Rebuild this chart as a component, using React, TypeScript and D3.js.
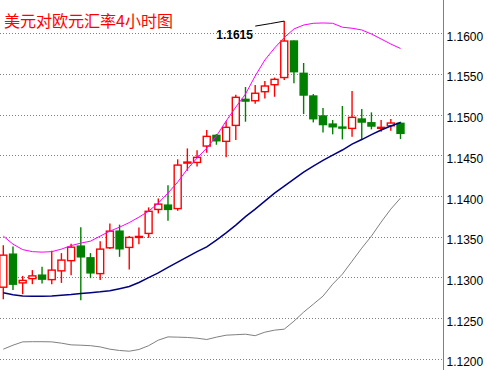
import * as d3 from "d3";
import { useEffect, useRef } from "react";

// 4-hour bars, left to right
const opens = [
  1.12879, 1.13285, 1.12932, 1.12984, 1.13027, 1.12972, 1.1308, 1.13205, 1.13384, 1.1324,
  1.13046, 1.13363, 1.13568, 1.13368, 1.13491, 1.1354, 1.13835, 1.13888, 1.13845, 1.14408,
  1.14413, 1.14614, 1.14745, 1.14672, 1.14868, 1.15188, 1.15171, 1.15282, 1.15368, 1.15456,
  1.15905, 1.15508, 1.15229, 1.14983, 1.14884, 1.14847, 1.14831, 1.14946, 1.149, 1.14835,
  1.14863, 1.14893,
];
const highs = [
  1.13396, 1.13378, 1.13018, 1.13089, 1.13129, 1.13328, 1.13298, 1.13412, 1.13617, 1.13298,
  1.13445, 1.13663, 1.13648, 1.13507, 1.13614, 1.1386, 1.1397, 1.14132, 1.14451, 1.14585,
  1.14561, 1.14811, 1.14761, 1.14918, 1.15245, 1.1534, 1.15364, 1.15413, 1.15456, 1.1615,
  1.1591, 1.15635, 1.15253, 1.15081, 1.14934, 1.15106, 1.1529, 1.15069, 1.15028, 1.14934,
  1.14946, 1.14913,
];
const lows = [
  1.12732, 1.12843, 1.12793, 1.12916, 1.12923, 1.12916, 1.12932, 1.13027, 1.1272, 1.1299,
  1.12966, 1.13347, 1.13252, 1.13095, 1.13408, 1.13485, 1.13786, 1.13695, 1.13818, 1.1431,
  1.14364, 1.14531, 1.1463, 1.14475, 1.14688, 1.14913, 1.15134, 1.15198, 1.1522, 1.15426,
  1.15385, 1.15007, 1.14905, 1.1478, 1.14758, 1.14696, 1.14728, 1.14696, 1.14819, 1.1479,
  1.14802, 1.147,
];
const closes = [
  1.13273, 1.12916, 1.12962, 1.13018, 1.12978, 1.13089, 1.13212, 1.13371, 1.13252, 1.13055,
  1.13347, 1.13568, 1.13351, 1.13491, 1.13503, 1.13812, 1.139, 1.13835, 1.1438, 1.14417,
  1.14475, 1.14733, 1.14679, 1.14844, 1.15213, 1.15167, 1.15263, 1.15352, 1.15434, 1.15905,
  1.15528, 1.15241, 1.1495, 1.14878, 1.14851, 1.14839, 1.14967, 1.14909, 1.1486, 1.14844,
  1.14897, 1.1477,
];

// bollinger bands
const upperBand = [
  1.13507, 1.13408, 1.13341, 1.13316, 1.1331, 1.13316, 1.13347, 1.1339, 1.13421, 1.13445,
  1.13507, 1.13568, 1.13617, 1.13673, 1.1374, 1.13814, 1.13913, 1.14036, 1.14171, 1.14331,
  1.14466, 1.14589, 1.14737, 1.14921, 1.15093, 1.15253, 1.15475, 1.15672, 1.15819, 1.15948,
  1.16053, 1.16102, 1.16123, 1.16127, 1.16123, 1.16075, 1.16062, 1.16041, 1.15991, 1.1593,
  1.15868, 1.15813,
];
const middleBand = [
  1.12812, 1.12787, 1.12772, 1.12769, 1.12769, 1.12772, 1.12781, 1.1279, 1.12802, 1.12812,
  1.12822, 1.12836, 1.12861, 1.12888, 1.12937, 1.12996, 1.13055, 1.13122, 1.13187, 1.13252,
  1.13316, 1.13375, 1.13458, 1.13547, 1.13642, 1.13747, 1.13839, 1.13937, 1.14036, 1.14122,
  1.14208, 1.14294, 1.14368, 1.14438, 1.14503, 1.14565, 1.14638, 1.14694, 1.14755, 1.14811,
  1.1486, 1.14903,
];
const lowerBand = [
  1.12117, 1.12166, 1.12207, 1.12209, 1.12209, 1.12207, 1.12191, 1.1217, 1.12166, 1.1216,
  1.12145, 1.12117, 1.12101, 1.12092, 1.12113, 1.1216, 1.12228, 1.12268, 1.12265, 1.12261,
  1.12252, 1.12236, 1.12265, 1.12289, 1.12295, 1.12301, 1.12283, 1.12326, 1.12351, 1.12363,
  1.12461, 1.12572, 1.1267, 1.12769, 1.12916, 1.13039, 1.13199, 1.13359, 1.13507, 1.13679,
  1.13839, 1.13974,
];

const yTicks = [1.12, 1.125, 1.13, 1.135, 1.14, 1.145, 1.15, 1.155, 1.16, 1.165];
const title = "美元对欧元汇率4小时图";
const peakIndex = 29;

const W = 487,
  H = 370,
  axisX = 443.5;

export default function App() {
  const svgRef = useRef<SVGSVGElement>(null);

  useEffect(() => {
    const svg = d3.select(svgRef.current);
    svg.selectAll("*").remove();

    const x = d3.scaleLinear().domain([0, opens.length - 1]).range([3.3, 400.5]);
    const y = d3.scaleLinear().domain([1.12, 1.16]).range([358.7, 33.3]);

    svg.append("rect").attr("width", W).attr("height", H).attr("fill", "#fff");

    // dotted grid
    svg
      .append("g")
      .selectAll("line")
      .data(yTicks)
      .enter()
      .append("line")
      .attr("x1", 0)
      .attr("x2", axisX - 1)
      .attr("y1", (d) => Math.round(y(d)) + 0.5)
      .attr("y2", (d) => Math.round(y(d)) + 0.5)
      .attr("stroke", "#808080")
      .attr("stroke-dasharray", "1,2");

    // candles
    const bars = d3.range(opens.length);
    const bw = 7;
    const g = svg.append("g");
    g.selectAll("line.wick")
      .data(bars)
      .enter()
      .append("line")
      .attr("class", "wick")
      .attr("x1", (i) => x(i))
      .attr("x2", (i) => x(i))
      .attr("y1", (i) => y(highs[i]))
      .attr("y2", (i) => y(lows[i]))
      .attr("stroke", (i) => (closes[i] >= opens[i] ? "#ff0000" : "#008000"))
      .attr("stroke-width", 1.4);

    g.selectAll("rect.body")
      .data(bars)
      .enter()
      .append("rect")
      .attr("class", "body")
      .attr("x", (i) => x(i) - bw / 2)
      .attr("width", bw)
      .attr("y", (i) => y(Math.max(opens[i], closes[i])))
      .attr("height", (i) => Math.max(1, Math.abs(y(opens[i]) - y(closes[i]))))
      .attr("fill", (i) => (closes[i] >= opens[i] ? "#fff" : "#008000"))
      .attr("stroke", (i) => (closes[i] >= opens[i] ? "#ff0000" : "#008000"))
      .attr("stroke-width", 1.4);

    // bands
    const line = d3
      .line<number>()
      .x((d, i) => x(i))
      .y((d) => y(d));
    svg
      .append("path")
      .attr("d", line(lowerBand))
      .attr("fill", "none")
      .attr("stroke", "#808080")
      .attr("stroke-width", 1);
    svg
      .append("path")
      .attr("d", line(middleBand))
      .attr("fill", "none")
      .attr("stroke", "#000080")
      .attr("stroke-width", 1.5);
    svg
      .append("path")
      .attr("d", line(upperBand))
      .attr("fill", "none")
      .attr("stroke", "#ff00ff")
      .attr("stroke-width", 1);

    // right price axis
    svg
      .append("line")
      .attr("x1", axisX)
      .attr("x2", axisX)
      .attr("y1", 0)
      .attr("y2", H)
      .attr("stroke", "#808080");
    svg
      .append("g")
      .selectAll("text")
      .data(yTicks)
      .enter()
      .append("text")
      .attr("x", axisX + 3)
      .attr("y", (d) => y(d) + 7.5)
      .attr("font-family", "Liberation Sans, Arial, sans-serif")
      .attr("font-size", 12)
      .attr("fill", "#000")
      .text((d) => d.toFixed(4));

    // peak marker
    const px = x(peakIndex),
      py = y(highs[peakIndex]);
    svg
      .append("polyline")
      .attr("points", `${px - 29},${py + 5} ${px - 14},${py + 2.5} ${px},${py}`)
      .attr("fill", "none")
      .attr("stroke", "#000")
      .attr("stroke-width", 1);
    svg
      .append("text")
      .attr("x", px - 68)
      .attr("y", py + 17.5)
      .attr("font-family", "Liberation Sans, Arial, sans-serif")
      .attr("font-size", 12)
      .attr("font-weight", "bold")
      .attr("fill", "#000")
      .text(highs[peakIndex].toFixed(4));

    // title
    svg
      .append("text")
      .attr("x", 4)
      .attr("y", 27)
      .attr("font-family", "Noto Sans CJK SC, sans-serif")
      .attr("font-size", 16)
      .attr("fill", "#ff0000")
      .text(title);
  }, []);

  return (
    <svg
      ref={svgRef}
      width={W}
      height={H}
      style={{ position: "absolute", left: 0, top: 0 }}
    ></svg>
  );
}
